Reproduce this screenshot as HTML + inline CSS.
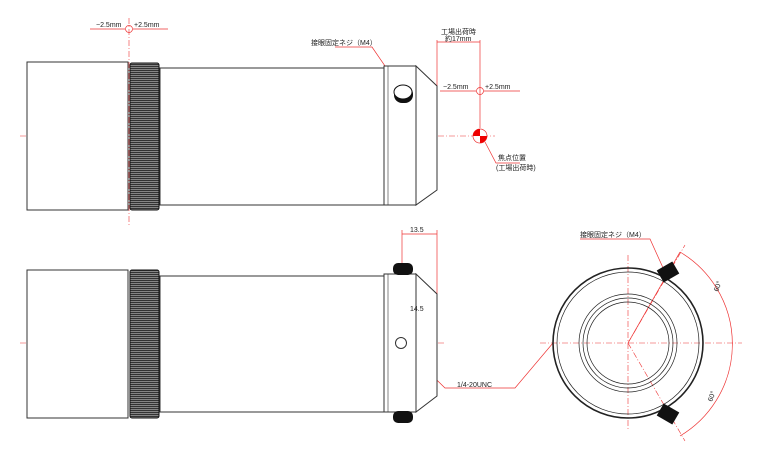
<!DOCTYPE html>
<html><head><meta charset="utf-8"><style>body{margin:0;background:#fff}svg{display:block}text{font-family:"Liberation Sans","Noto Sans CJK JP",sans-serif;font-size:7px;fill:#222}</style></head><body>
<svg width="770" height="460" viewBox="0 0 770 460" xmlns="http://www.w3.org/2000/svg">
<defs>
<pattern id="kn" width="4" height="2" patternUnits="userSpaceOnUse"><rect width="4" height="2" fill="#333"/><rect y="1.2" width="4" height="0.6" fill="#bbb"/></pattern>
</defs>
<g stroke="#e33" stroke-width="0.6" fill="none" stroke-dasharray="6,2,1,2">
<line x1="20" y1="136" x2="495" y2="136"/>
<line x1="129" y1="18" x2="129" y2="225"/>
<line x1="20" y1="343" x2="445" y2="343"/>
<line x1="540" y1="343" x2="742" y2="343"/>
<line x1="628" y1="255" x2="628" y2="430"/>
<line x1="628" y1="343" x2="685" y2="245"/>
<line x1="628" y1="343" x2="685" y2="441"/>
</g>
<g stroke="#e33" stroke-width="0.7" fill="none">
<line x1="90" y1="29" x2="125" y2="29"/><line x1="133" y1="29" x2="168" y2="29"/><circle cx="129" cy="29" r="3.5"/>
<line x1="437" y1="40" x2="437" y2="88"/><line x1="480" y1="40" x2="480" y2="128"/><line x1="437" y1="42" x2="480" y2="42"/>
<line x1="440" y1="91" x2="476" y2="91"/><line x1="484" y1="91" x2="520" y2="91"/><circle cx="480" cy="91" r="3.5"/>
<polyline points="485,142 496,163 520,163"/>
<polyline points="335,47 372,47 400,88"/>
<line x1="402" y1="230" x2="402" y2="270"/><line x1="437" y1="230" x2="437" y2="296"/><line x1="402" y1="234" x2="437" y2="234"/>
<line x1="399" y1="310" x2="399" y2="340"/><line x1="399" y1="313" x2="437" y2="313"/>
<polyline points="403,347 445,388 515,388 553,343"/>
<polyline points="580,239 650,239 664,270"/>
<path d="M680,252 A107,107 0 0 1 680,436"/>
<line x1="628" y1="343" x2="680" y2="252"/>
</g>
<circle cx="480" cy="136" r="7" fill="#fff" stroke="#e33" stroke-width="0.7"/>
<path d="M480,136 L480,129 A7,7 0 0 0 473,136 Z M480,136 L487,136 A7,7 0 0 1 480,143 Z" fill="#e00"/>
<g stroke="#333" stroke-width="1" fill="#fff">
<rect x="27" y="62" width="101" height="148"/>
<rect x="160" y="68" width="224" height="137"/>
<rect x="384" y="66" width="32" height="139"/>
<polygon points="416,66 437,86 437,190 416,205"/>
<rect x="27" y="270" width="101" height="148"/>
<rect x="160" y="276" width="224" height="136"/>
<rect x="384" y="274" width="32" height="138"/>
<polygon points="416,274 437,294 437,396 416,412"/>
</g>
<rect x="130" y="63" width="29" height="147" rx="2" fill="url(#kn)" stroke="#111"/>
<rect x="130" y="270" width="29" height="148" rx="2" fill="url(#kn)" stroke="#111"/>
<line x1="388" y1="66" x2="388" y2="205" stroke="#333" stroke-width="0.6"/>
<line x1="388" y1="274" x2="388" y2="412" stroke="#333" stroke-width="0.6"/>
<rect x="394" y="86" width="19" height="17" rx="8" fill="#111"/>
<ellipse cx="403" cy="92" rx="9" ry="7" fill="#fff" stroke="#111"/>
<rect x="393" y="263" width="20" height="12" rx="5" fill="#111"/>
<rect x="393" y="411" width="20" height="12" rx="5" fill="#111"/>
<circle cx="401" cy="343" r="5.5" fill="#fff" stroke="#333"/>
<g fill="none" stroke="#222">
<circle cx="628" cy="343" r="75" stroke-width="1.6"/>
<circle cx="628" cy="343" r="71" stroke-width="0.7"/>
<circle cx="628" cy="343" r="49" stroke-width="0.7"/>
<circle cx="628" cy="343" r="45" stroke-width="0.7"/>
<circle cx="628" cy="343" r="41" stroke-width="0.7"/>
</g>
<rect x="-9" y="-7" width="18" height="14" fill="#111" transform="translate(668,272) rotate(-30)"/>
<rect x="-9" y="-7" width="18" height="14" fill="#111" transform="translate(668,414) rotate(30)"/>
<g>
<text x="96" y="27" font-size="6">−2.5mm</text><text x="134" y="27" font-size="6">+2.5mm</text>
<text x="443" y="89" font-size="6">−2.5mm</text><text x="485" y="89" font-size="6">+2.5mm</text>
<text x="441" y="34" font-size="6.5">工場出荷時</text><text x="445" y="41" font-size="6.5">約17mm</text>
<text x="311" y="45">接眼固定ネジ（M4）</text>
<text x="498" y="160" font-size="8">焦点位置</text><text x="496" y="170" font-size="7">(工場出荷時)</text>
<text x="410" y="232">13.5</text><text x="410" y="311">14.5</text>
<text x="457" y="387">1/4-20UNC</text>
<text x="580" y="237">接眼固定ネジ（M4）</text>
<text x="718" y="292" transform="rotate(-70 718 292)">60°</text>
<text x="712" y="402" transform="rotate(-70 712 402)">60°</text>
</g>
</svg>
</body></html>
